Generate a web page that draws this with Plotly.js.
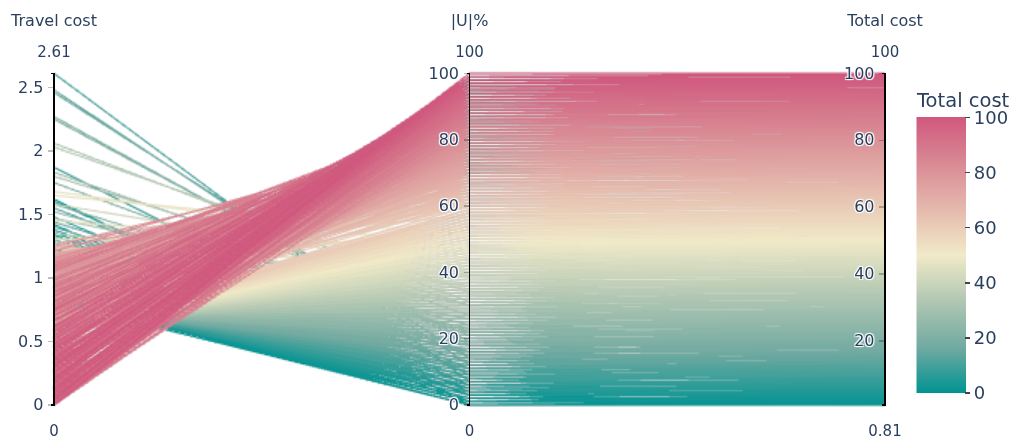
<!DOCTYPE html>
<html>
<head>
<meta charset="utf-8">
<script src="https://cdn.plot.ly/plotly-3.0.1.min.js"></script>
<style>
html,body{margin:0;padding:0;background:#fff;width:1013px;height:437px;}
#wrap{width:675.333px;height:291.333px;transform:scale(1.5);transform-origin:0 0;}
#chart{width:675.333px;height:291.333px;}
</style>
</head>
<body>
<div id="wrap"><div id="chart"></div></div>
<script>
// Dimension labels
const dimLabels = ['Travel cost', '|U|%', 'Total cost'];

// Colorbar tick values
const colorbarTicks = [0, 20, 40, 60, 80, 100];

// ---- Travel cost per solution ----
const travelCost = [
  // high travel-cost solutions
  1.34,1.62,1.42,1.36,1.23,1.48,1.20,1.60,1.38,2.61,
  1.28,1.87,1.13,1.55,1.05,2.48,1.30,2.46,1.40,1.44,
  1.16,2.27,1.21,2.25,1.75,1.58,1.32,1.52,1.27,1.83,
  1.80,1.47,2.06,2.03,1.35,1.25,1.58,1.10,1.19,1.45,
  1.68,1.31,1.65,1.08,1.00,1.22,
  // low-|U| solutions
  0.81,0.84,0.82,0.86,0.83,0.85,0.81,0.84,0.82,0.86,
  0.83,0.81,0.85,0.82,0.84,0.80,0.83,0.86,0.81,0.84,
  0.82,0.80,0.84,0.81,0.83,0.79,0.82,0.85,0.80,0.83,
  0.79,0.82,0.80,0.78,0.83,0.81,0.77,0.80,0.82,0.78,
  0.80,0.77,0.81,0.79,0.76,0.80,0.78,0.75,0.79,0.77,
  0.74,0.78,0.76,0.79,0.75,0.77,0.73,0.78,0.76,0.74,
  0.77,0.75,0.72,0.76,0.74,0.77,0.73,0.75,0.71,0.76,
  0.73,0.75,0.71,0.74,0.72,0.76,0.70,0.73,0.75,0.71,
  0.74,0.72,0.70,0.73,0.71,0.74,0.69,0.72,0.70,0.73,
  0.71,0.68,0.72,0.70,0.73,0.69,0.71,0.67,0.72,0.70,
  0.68,0.71,0.69,0.66,0.70,0.68,0.71,0.67,0.69,0.65,
  0.70,0.67,0.69,0.66,0.68,0.64,0.69,0.67,0.65,0.68,
  0.66,0.63,0.67,0.65,0.68,0.64,0.66,0.62,0.67,0.65,
  0.63,0.66,0.64,0.61,0.65,0.63,0.66,0.62,0.64,0.60,
  0.65,0.63,0.61,0.64,0.62,0.65,0.60,0.63,0.61,0.64,
  0.62,0.60,0.63,0.61,0.59,0.63,0.60,0.62,0.58,0.61,
  0.59,0.62,0.60,0.58,0.61,0.59,0.62,0.57,0.60,0.58,
  0.61,0.59,
  0.83,0.85, 0.84,0.82, 0.81,0.85, 0.84,0.82, 0.80,0.84,
  0.83,0.81, 0.81,0.84, 0.84,0.80, 0.80,0.83, 0.82,0.79,
  0.79,0.82, 0.81,0.78, 0.78,0.81, 0.80,0.77, 0.77,0.80,
  0.79,0.76, 0.76,0.79, 0.78,0.75, 0.75,0.78, 0.77,0.74,
  0.74,0.77, 0.76,0.73, 0.73,0.76, 0.75,0.72, 0.72,0.75,
  0.74,0.71, 0.71,0.74, 0.73,0.70, 0.70,0.73, 0.72,0.69,
  0.69,0.72, 0.71,0.68, 0.68,0.71, 0.70,0.67, 0.67,0.70,
  0.69,0.66, 0.66,0.69, 0.68,0.65, 0.65,0.68, 0.67,0.64,
  0.64,0.67, 0.66,0.63, 0.63,0.66, 0.65,0.62, 0.62,0.65,
  0.64,0.61, 0.61,0.64, 0.63,0.60, 0.60,0.63, 0.62,0.59,
  0.59,0.62, 0.61,0.58, 0.58,0.61, 0.60,0.57, 0.57,0.60,
  0.59,0.56, 0.56,0.59, 0.58,0.55, 0.55,0.58, 0.57,0.54,
  // high-|U| solutions
  1.02,0.78,1.15,0.66,0.91,1.19,0.72,0.97,1.08,0.84,
  1.12,0.69,0.95,1.18,0.80,1.04,0.63,0.88,1.14,0.75,
  0.99,1.16,0.71,0.93,1.07,0.60,0.86,1.20,0.77,1.01,
  0.67,1.10,0.89,0.55,1.17,0.82,1.03,0.70,0.94,1.13,
  0.79,0.52,1.06,0.91,1.19,0.64,0.85,1.00,0.58,1.14,
  0.73,0.97,1.09,0.50,0.83,1.16,0.68,0.92,1.04,0.61,
  0.87,1.12,0.56,0.98,0.76,1.05,0.47,0.90,1.18,0.66,
  1.01,0.81,0.44,1.14,0.70,0.95,0.53,1.07,0.86,0.39,
  0.74,1.10,0.60,0.92,0.35,0.83,1.16,0.49,0.99,0.67,
  0.42,1.05,0.78,0.57,1.13,0.31,0.88,0.64,1.02,0.46,
  0.93,0.71,0.28,1.09,0.55,0.82,0.38,1.15,0.62,0.96,
  0.49,0.24,0.77,1.06,0.33,0.68,0.90,0.18,1.12,0.58,
  0.14,0.86,0.41,1.00,0.27,0.73,0.09,1.08,0.52,0.35,
  0.80,0.05,1.10,0.44,0.21,0.95,0.63,0.12,1.06,0.37,
  0.00,0.71,0.98,0.26,0.54,0.08,0.89,0.40,0.16,0.76,
  0.30,0.93,0.03,0.59,0.20,0.82,0.47,0.11,0.67,0.36,
  0.86,0.00,0.52,0.25,0.78,0.14,0.43,0.70,0.06,0.33,
  0.75,0.19,0.49,0.02,0.66,0.29,0.10,0.58,0.38,0.15,
  0.62,0.00,0.44,0.22,0.55,0.07,0.33,0.48,0.13,0.41,
  0.26,0.43,0.05,0.35,0.17,0.30,0.09,0.21,0.04,0.12,
  0.00,0.02,0.00,1.24,1.27,1.22,1.25,1.21,
  0.58,0.96,1.14, 0.49,0.77,1.05, 0.62,0.88,1.17, 0.41,0.73,1.02,
  0.55,0.84,1.11, 0.36,0.68,0.97, 0.47,0.79,1.08, 0.29,0.63,0.91,
  0.52,0.85,1.13, 0.24,0.57,0.94, 0.38,0.71,1.04, 0.19,0.50,0.83,
  0.33,0.64,0.99, 0.12,0.45,0.76, 0.28,0.60,0.92, 0.07,0.39,0.70,
  0.23,0.55,0.88, 0.04,0.34,0.66, 0.17,0.48,0.81, 0.09,0.31,0.60,
  0.22,0.44,0.74, 0.02,0.27,0.57, 0.15,0.39,0.66, 0.05,0.30,0.53,
  0.12,0.36,0.61, 0.03,0.24,0.45, 0.10,0.29,0.51, 0.01,0.18,0.37,
  0.06,0.20,0.32,
  1.05,0.88,1.17,0.93,1.10,0.86,1.02,1.19,0.90,1.08,
  0.64,0.98,0.55,0.87,1.06,0.72,0.51,0.94,0.66,0.83,
  0.45,0.78,0.30,0.92,0.57,0.26,0.74,0.40,0.85,0.21,
  0.48,0.13,0.37,0.58,0.08,0.31,0.46,0.11,0.27,0.05
];

// ---- Share of unserved requests |U| (%) ----
const unservedPct = [
  0,0,1,3,3,4,5,6,6,7,
  8,9,10,11,11,12,13,14,15,16,
  16,18,18,19,21,22,23,24,26,27,
  30,30,31,34,36,39,40,42,44,46,
  47,48,51,52,54,57,
  0,0,1,1,1,2,2,2,3,3,
  4,4,4,5,5,5,6,6,6,7,
  7,7,8,8,8,9,9,9,10,10,
  11,11,11,12,12,12,13,13,13,14,
  14,14,15,15,15,16,16,16,17,17,
  18,18,18,19,19,19,20,20,20,21,
  21,21,22,22,22,23,23,23,24,24,
  25,25,25,26,26,26,27,27,27,28,
  28,28,29,29,29,30,30,30,31,31,
  32,32,32,33,33,33,34,34,34,35,
  35,35,36,36,36,37,37,37,38,38,
  39,39,39,40,40,40,41,41,41,42,
  42,42,43,43,43,44,44,44,45,45,
  46,46,46,47,47,47,48,48,48,49,
  49,49,50,50,50,51,51,51,52,52,
  53,53,53,54,54,54,55,55,55,56,
  56,56,57,57,57,58,58,58,59,59,
  60,60,
  0,0, 1,1, 2,2, 3,3, 4,4, 5,5, 6,6, 7,7, 8,8, 9,9,
  10,10, 11,11, 12,12, 13,13, 14,14, 15,15, 16,16, 17,17, 18,18, 19,19,
  20,20, 21,21, 22,22, 23,23, 24,24, 25,25, 26,26, 27,27, 28,28, 29,29,
  30,30, 31,31, 32,32, 33,33, 34,34, 35,35, 36,36, 37,37, 38,38, 39,39,
  40,40, 41,41, 42,42, 43,43, 44,44, 45,45, 46,46, 47,47, 48,48, 49,49,
  50,50, 51,51, 52,52, 53,53, 54,54, 55,55, 56,56, 57,57, 58,58, 59,59,
  60,60,60,61,61,61,61,61,62,62,
  62,62,62,63,63,63,63,63,64,64,
  64,64,64,65,65,65,65,65,66,66,
  66,66,66,67,67,67,67,67,68,68,
  68,68,68,69,69,69,69,69,70,70,
  70,70,70,71,71,71,71,71,72,72,
  72,72,72,73,73,73,73,73,74,74,
  74,74,74,75,75,75,75,75,76,76,
  76,76,76,77,77,77,77,77,78,78,
  78,78,78,79,79,79,79,79,80,80,
  80,80,80,81,81,81,81,81,82,82,
  82,82,82,83,83,83,83,83,84,84,
  84,84,84,85,85,85,85,85,86,86,
  86,86,86,87,87,87,87,87,88,88,
  88,88,88,89,89,89,89,89,90,90,
  90,90,90,91,91,91,91,91,92,92,
  92,92,92,93,93,93,93,93,94,94,
  94,94,94,95,95,95,95,95,96,96,
  96,96,96,97,97,97,97,97,98,98,
  98,98,98,99,99,99,99,99,100,100,
  100,83,86,67,70,74,79,82,
  70,70,70, 71,71,71, 72,72,72, 73,73,73,
  74,74,74, 75,75,75, 76,76,76, 77,77,77,
  78,78,78, 79,79,79, 80,80,80, 81,81,81,
  82,82,82, 83,83,83, 84,84,84, 85,85,85,
  86,86,86, 87,87,87, 88,88,88, 89,89,89,
  90,90,90, 91,91,91, 92,92,92, 93,93,93,
  94,94,94, 95,95,95, 96,96,96, 97,97,97,
  98,98,98,
  60,61,62,63,64,65,66,67,68,69,
  70,71,72,73,74,75,76,77,78,79,
  80,81,82,83,84,85,86,87,88,89,
  90,91,92,93,94,95,96,97,98,99
];

// ---- Total cost per solution ----
const totalCost = [
  1.34,1.62,2.42,3.86,4.23,4.98,5.70,7.10,7.38,9.81,
  9.28,10.47,10.63,12.05,12.25,14.48,13.80,15.96,15.90,16.94,
  17.16,19.77,19.21,21.45,22.25,23.08,23.82,25.52,27.27,28.83,
  31.30,31.47,33.06,35.53,37.35,39.75,41.58,43.10,45.19,46.95,
  48.68,49.31,52.15,53.08,55.00,58.22,
  0.81,1.19,1.52,1.91,2.23,2.60,2.91,3.29,3.62,4.01,
  4.33,4.66,5.05,5.37,5.74,6.05,6.43,6.81,7.11,7.49,
  7.82,8.15,8.54,8.86,9.23,9.54,9.92,10.30,10.60,10.98,
  11.29,11.67,12.00,12.33,12.73,13.06,13.37,13.75,14.12,14.43,
  14.80,15.12,15.51,15.84,16.16,16.55,16.88,17.20,17.59,17.92,
  18.24,18.63,18.96,19.34,19.65,20.02,20.33,20.73,21.06,21.39,
  21.77,22.10,22.42,22.81,23.14,23.52,23.83,24.20,24.51,24.91,
  25.23,25.60,25.91,26.29,26.62,27.01,27.30,27.68,28.05,28.36,
  28.74,29.07,29.40,29.78,30.11,30.49,30.79,31.17,31.50,31.88,
  32.21,32.53,32.92,33.25,33.63,33.94,34.31,34.62,35.02,35.35,
  35.68,36.06,36.39,36.71,37.10,37.43,37.81,38.12,38.49,38.80,
  39.20,39.52,39.89,40.21,40.58,40.89,41.29,41.62,41.95,42.33,
  42.66,42.98,43.37,43.70,44.08,44.39,44.76,45.07,45.47,45.80,
  46.13,46.51,46.84,47.16,47.55,47.88,48.26,48.57,48.94,49.25,
  49.65,49.98,50.31,50.69,51.02,51.40,51.70,52.08,52.41,52.79,
  53.12,53.45,53.83,54.16,54.49,54.88,55.20,55.57,55.88,56.26,
  56.59,56.97,57.30,57.63,58.01,58.34,58.72,59.02,59.40,59.73,
  60.11,60.44,
  0.95,1.60, 0.88,3.10, 1.30,3.40, 1.90,4.90, 2.50,6.30,
  4.20,6.50, 4.80,8.00, 6.40,8.30, 6.60,10.20, 8.00,10.70,
  9.10,11.60, 9.70,13.10, 11.30,13.40, 11.90,14.90, 12.50,16.30,
  14.20,16.50, 14.80,18.00, 16.40,18.30, 16.60,20.20, 18.00,20.70,
  19.10,21.60, 19.70,23.10, 21.30,23.40, 21.90,24.90, 22.50,26.30,
  24.20,26.50, 24.80,28.00, 26.40,28.30, 26.60,30.20, 28.00,30.70,
  29.10,31.60, 29.70,33.10, 31.30,33.40, 31.90,34.90, 32.50,36.30,
  34.20,36.50, 34.80,38.00, 36.40,38.30, 36.60,40.20, 38.00,40.70,
  39.10,41.60, 39.70,43.10, 41.30,43.40, 41.90,44.90, 42.50,46.30,
  44.20,46.50, 44.80,48.00, 46.40,48.30, 46.60,50.20, 48.00,50.70,
  49.10,51.60, 49.70,53.10, 51.30,53.40, 51.90,54.90, 52.50,56.30,
  54.20,56.50, 54.80,58.00, 56.40,58.30, 56.60,60.20, 58.00,60.70,
  61.02,60.98,61.55,61.26,61.71,62.19,61.92,62.37,62.68,62.64,
  63.12,62.89,63.35,63.78,63.60,64.04,63.83,64.28,64.74,64.55,
  64.99,65.36,65.11,65.53,65.87,65.60,66.06,66.60,66.37,66.81,
  66.67,67.30,67.29,67.15,67.97,67.82,68.23,68.10,68.54,68.93,
  68.79,68.72,69.46,69.51,69.99,69.64,70.05,70.40,70.18,70.94,
  70.73,71.17,71.49,71.10,71.63,72.16,71.88,72.32,72.64,72.41,
  72.87,73.32,72.96,73.58,73.56,74.05,73.67,74.30,74.78,74.46,
  75.01,75.01,74.84,75.74,75.50,75.95,75.73,76.47,76.46,76.19,
  76.74,77.30,77.00,77.52,77.15,77.83,78.36,77.89,78.59,78.47,
  78.42,79.25,79.18,79.17,79.93,79.31,80.08,80.04,80.62,80.26,
  80.93,80.91,80.68,81.69,81.35,81.82,81.58,82.55,82.22,82.76,
  82.49,82.44,83.17,83.66,83.13,83.68,84.10,83.58,84.72,84.38,
  84.14,85.06,84.81,85.60,85.07,85.73,85.29,86.48,86.12,86.15,
  86.80,86.25,87.50,87.04,87.01,87.95,87.83,87.52,88.66,88.17,
  88.00,88.91,89.38,88.86,89.34,89.08,90.09,89.80,89.76,90.56,
  90.30,91.13,90.43,91.19,91.00,91.82,91.67,91.51,92.27,92.16,
  92.86,92.20,92.92,92.85,93.58,93.14,93.63,94.10,93.66,94.13,
  94.75,94.39,94.89,94.62,95.46,95.29,95.30,95.98,95.98,95.95,
  96.62,96.20,96.84,96.82,97.35,97.07,97.53,97.88,97.73,98.21,
  98.26,98.63,98.45,98.95,98.97,99.30,99.29,99.61,99.64,99.92,
  100.00,83.32,85.90,67.74,71.57,75.42,79.75,83.31,
  70.58,70.96,71.14, 71.49,71.77,72.05, 72.62,72.88,73.17, 73.41,73.73,74.02,
  74.55,74.84,75.11, 75.36,75.68,75.97, 76.47,76.79,77.08, 77.29,77.63,77.91,
  78.52,78.85,79.13, 79.24,79.57,79.94, 80.38,80.71,81.04, 81.19,81.50,81.83,
  82.33,82.64,82.99, 83.12,83.45,83.76, 84.28,84.60,84.92, 85.07,85.39,85.70,
  86.23,86.55,86.88, 87.04,87.34,87.66, 88.17,88.48,88.81, 89.09,89.31,89.60,
  90.22,90.44,90.74, 91.02,91.27,91.57, 92.15,92.39,92.66, 93.05,93.30,93.53,
  94.12,94.36,94.61, 95.03,95.24,95.45, 96.10,96.29,96.51, 97.01,97.18,97.37,
  98.06,98.20,98.32,
  59.10,59.70,61.30,61.90,62.50,64.20,64.80,66.40,66.60,68.00,
  69.10,69.70,71.30,71.90,72.50,74.20,74.80,76.40,76.60,78.00,
  79.10,79.70,81.30,81.90,82.50,84.20,84.80,86.40,86.60,88.00,
  89.10,89.70,91.30,91.90,92.50,94.20,94.80,96.40,96.60,98.00
];

const tealrose = [
  [0.0, 'rgb(0, 147, 146)'],
  [0.1667, 'rgb(114, 170, 161)'],
  [0.3333, 'rgb(177, 199, 179)'],
  [0.5, 'rgb(241, 234, 200)'],
  [0.6667, 'rgb(229, 185, 173)'],
  [0.8333, 'rgb(217, 137, 148)'],
  [1.0, 'rgb(208, 88, 126)']
];

// The chart is laid out at 2/3 size and shown at 1.5x so that lines render 1.5px wide.
const trace = {
  type: 'parcoords',
  line: {
    color: totalCost,
    colorscale: tealrose,
    cmin: 0,
    cmax: 100,
    showscale: true,
    colorbar: {
      title: {text: 'Total cost', side: 'top', font: {size: 13}},
      thickness: 32.67,
      outlinewidth: 0,
      tickfont: {size: 12},
      tickvals: colorbarTicks,
      ticklen: 3.33,
      x: 1.0265,
      xanchor: 'left',
      xpad: 6.67,
      ypad: 6.67,
      lenmode: 'pixels',
      len: 216.67,
      yanchor: 'bottom',
      y: 0.0148
    }
  },
  labelfont: {size: 10.67},
  tickfont: {size: 10.67},
  rangefont: {size: 10},
  dimensions: [
    {label: dimLabels[0], values: travelCost, range: [0, 2.61]},
    {label: dimLabels[1], values: unservedPct, range: [0, 100]},
    {label: dimLabels[2], values: totalCost, range: [0.81, 100]}
  ]
};

const layout = {
  width: 675.333,
  height: 291.333,
  margin: {l: 36, r: 85.333, t: 47.333, b: 19.333, autoexpand: false},
  font: {family: 'Verdana, "DejaVu Sans", sans-serif', color: '#2a3f5f', size: 10},
  paper_bgcolor: '#ffffff',
  plot_bgcolor: '#ffffff'
};

const gd = document.getElementById('chart');
Plotly.newPlot(gd, [trace], layout, {displayModeBar: false, plotGlPixelRatio: 1}).then(function () {
  gd.querySelectorAll('.axis-title').forEach(function (el) {
    el.setAttribute('transform', 'translate(0,-30)');
  });
  gd.querySelectorAll('.axis-extent-top').forEach(function (el) {
    el.setAttribute('transform', (el.getAttribute('transform') || '') + ' translate(0,0.67)');
  });
  gd.querySelectorAll('.axis-extent-bottom').forEach(function (el) {
    el.setAttribute('transform', (el.getAttribute('transform') || '') + ' translate(0,1.33)');
  });
  gd.querySelectorAll('.parcoords .axis .domain').forEach(function (el) {
    el.style.stroke = '#000';
    el.style.strokeOpacity = '1';
    el.style.strokeWidth = '1px';
  });
});
</script>
</body>
</html>
